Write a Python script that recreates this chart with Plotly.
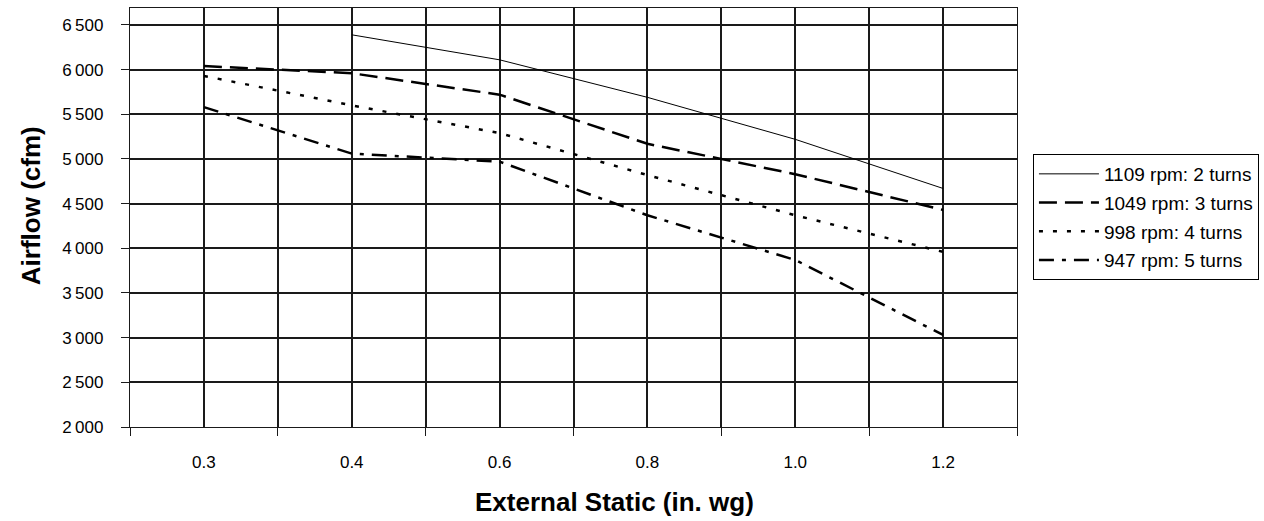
import plotly.graph_objects as go

categories = ["0.3", "0.4", "0.6", "0.8", "1.0", "1.2"]
series_names = ["1109 rpm: 2 turns", "1049 rpm: 3 turns", "998 rpm: 4 turns", "947 rpm: 5 turns"]
rpm1109 = [None, 6390, 6110, 5690, 5220, 4670]
rpm1049 = [6040, 5960, 5720, 5170, 4830, 4430]
rpm998 = [5930, 5600, 5290, 4820, 4370, 3960]
rpm947 = [5580, 5060, 4970, 4370, 3870, 3030]
y_ticks = [2000, 2500, 3000, 3500, 4000, 4500, 5000, 5500, 6000, 6500]
y_ticktext = ["2\u2009000", "2\u2009500", "3\u2009000", "3\u2009500", "4\u2009000",
              "4\u2009500", "5\u2009000", "5\u2009500", "6\u2009000", "6\u2009500"]
x_title = "External Static (in. wg)"
y_title = "Airflow (cfm)"

x_idx = list(range(len(categories)))
styles = [
    dict(width=1, dash="solid"),
    dict(width=2.5, dash="18px,8px"),
    dict(width=2.5, dash="4px,10px"),
    dict(width=2.5, dash="15px,8px,4px,8px"),
]
data = [rpm1109, rpm1049, rpm998, rpm947]

fig = go.Figure()
for i, (name, ys) in enumerate(zip(series_names, data)):
    fig.add_trace(go.Scatter(
        x=x_idx, y=ys, name=name, mode="lines",
        line=dict(color="black", **styles[i]),
        legendgroup=str(i), connectgaps=False,
    ))

font = "Liberation Sans, Arial, sans-serif"
GRID = "#1a1a1a"
fig.update_layout(
    width=1264, height=521,
    margin=dict(l=130, r=247, t=8, b=94, autoexpand=False),
    plot_bgcolor="white", paper_bgcolor="white",
    font=dict(family=font, size=17, color="black"),
    showlegend=True,
    legend=dict(
        xref="container", yref="container",
        x=0.8172, y=0.7044, xanchor="left", yanchor="top",
        bordercolor="black", borderwidth=1,
        font=dict(size=19, family=font),
        tracegroupgap=1, traceorder="grouped",
        itemwidth=60,
    ),
    xaxis=dict(
        range=[-0.5, len(categories) - 0.5],
        tickmode="array", tickvals=x_idx, ticktext=categories,
        ticks="", showgrid=True, gridcolor=GRID, gridwidth=1.5,
        showline=True, linecolor=GRID, linewidth=1.2, mirror=True,
        zeroline=False, automargin=False,
        ticklabelstandoff=19,
        minor=dict(tickmode="array", tickvals=[v - 0.5 for v in x_idx] + [len(categories) - 0.5],
                   ticks="outside", ticklen=8, tickcolor=GRID,
                   showgrid=True, gridcolor=GRID, gridwidth=1.5),
        tickfont=dict(size=17, family=font),
    ),
    yaxis=dict(
        range=[2000, 6690],
        tickmode="array", tickvals=y_ticks, ticktext=y_ticktext,
        ticks="outside", ticklen=8, tickcolor=GRID,
        showgrid=True, gridcolor=GRID, gridwidth=1.5,
        showline=True, linecolor=GRID, linewidth=1.2, mirror=True,
        zeroline=False, automargin=False,
        ticklabelstandoff=14,
        tickfont=dict(size=17, family=font),
    ),
    annotations=[
        dict(text="<b>" + x_title + "</b>", xref="paper", yref="paper",
             x=0.5457, y=-0.179, xanchor="center", yanchor="middle",
             showarrow=False, font=dict(size=26, family=font)),
        dict(text="<b>" + y_title + "</b>", xref="paper", yref="paper",
             x=0, xshift=-99, y=0.527, xanchor="center", yanchor="middle",
             textangle=-90, showarrow=False, font=dict(size=26, family=font)),
    ],
)

fig.write_html("out.html", config={"displayModeBar": False},
               post_script="document.body.style.margin='0';")
